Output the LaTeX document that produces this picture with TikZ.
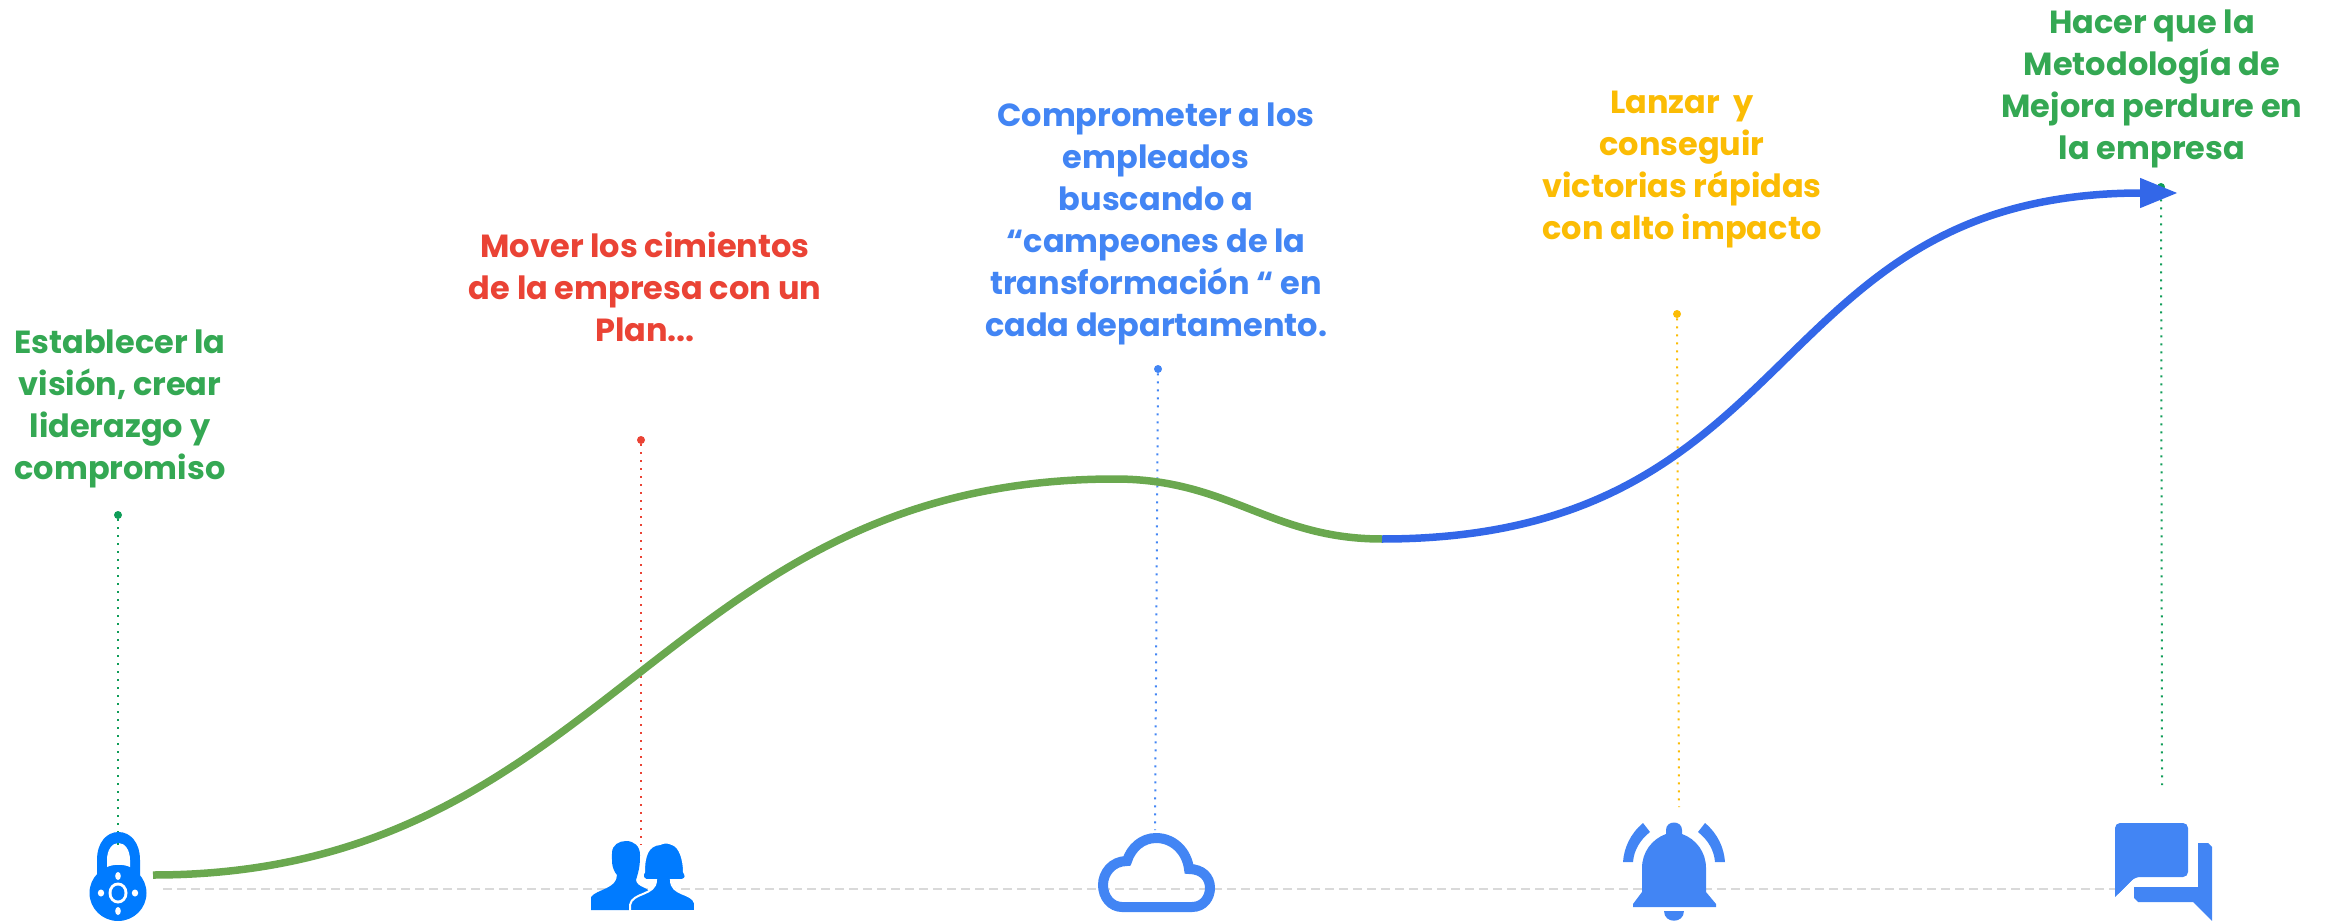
\documentclass[tikz,border=0pt]{standalone}
\usepackage{fontspec}
\setmainfont{Poppins}
\usepackage{tikz}
\usetikzlibrary{arrows.meta,calc,positioning}
\definecolor{stepgreen}{HTML}{34A853}
\definecolor{stepred}{HTML}{EA4335}
\definecolor{stepblue}{HTML}{4285F4}
\definecolor{stepyellow}{HTML}{FBBC04}
\definecolor{dotgreen}{HTML}{0F9D58}
\definecolor{curvegreen}{HTML}{6AA84F}
\definecolor{curveblue}{HTML}{3367E8}
\definecolor{iconblue}{HTML}{007BFF}
\definecolor{basegray}{HTML}{D9D9D9}
\tikzset{
    steptext/.style={font=\fontsize{18.2pt}{23.9pt}\selectfont\bfseries, align=center, text=#1, inner sep=0pt},
    leader/.style={#1, line width=0.4mm, dash pattern=on 0.4mm off 1.2mm},
    leaddot/.style={circle, fill=#1, inner sep=0pt, minimum size=1.6mm},
    curve/.style={line width=1.5mm, #1},
}
\begin{document}
\begin{tikzpicture}[x=0.2mm,y=-0.2mm]
    \useasboundingbox (0,0) rectangle (2330,921);
    % base line
    \coordinate (basestart) at (163,889);
    \coordinate (baseend) at (2115,889);
    \draw[basegray, line width=0.45mm, dash pattern=on 1.7mm off 1.1mm] (basestart) -- (baseend);

    % texts
    \node[steptext=stepgreen] (vision) at (120,409) {Establecer la\\visión, crear\\liderazgo y\\compromiso};
    \node[steptext=stepred] (plan) at (645,287) {Mover los cimientos\\de la empresa con un\\Plan...};
    \node[steptext=stepblue] (empleados) at (1156,224) {Comprometer a los\\empleados\\buscando a\\“campeones de la\\transformación “ en\\cada departamento.};
    \node[steptext=stepyellow] (victorias) at (1682,170) {Lanzar\ \ y\\conseguir\\victorias rápidas\\con alto impacto};
    \node[steptext=stepgreen] (metodo) at (2152,89) {Hacer que la\\Metodología de\\Mejora perdure en\\la empresa};

    % dots and dotted lines
    \node[leaddot=dotgreen] (dotvision) at (118,515) {};
    \node[leaddot=stepred] (dotplan) at (641,440) {};
    \node[leaddot=stepblue] (dotempleados) at (1158,369) {};
    \node[leaddot=stepyellow] (dotvictorias) at (1677,314) {};
    \node[leaddot=dotgreen] (dotmetodo) at (2161,187) {};
    \coordinate (endvision) at (118,846);
    \coordinate (endplan) at (641,845);
    \coordinate (endempleados) at (1155,830);
    \coordinate (endvictorias) at (1679,807);
    \coordinate (endmetodo) at (2162,785);
    \draw[leader=dotgreen] (dotvision) -- (endvision);
    \draw[leader=stepred] (dotplan) -- (endplan);
    \draw[leader=stepblue] (dotempleados) -- (endempleados);
    \draw[leader=stepyellow] (dotvictorias) -- (endvictorias);
    \draw[leader=dotgreen] (dotmetodo) -- (endmetodo);

    % lock
    \fill[iconblue] (118,893) ellipse [x radius=28.5, y radius=28];
    \fill[iconblue] (97,878) -- (97,860) .. controls (97,842) and (107,832) .. (118.5,832) .. controls (130,832) and (140,842) .. (140,860) -- (140,878) -- cycle;
    \fill[white] (107,867) -- (107,860) .. controls (107,850) and (112,843) .. (118.5,843) .. controls (125,843) and (130,850) .. (130,860) -- (130,867) .. controls (124,864) and (113,864) .. (107,867) -- cycle;
    \draw[leader=dotgreen] (118,843) -- (endvision);
    \fill[white] (118,893) ellipse [x radius=9.5, y radius=10.5];
    \fill[iconblue] (118,893) ellipse [x radius=6.5, y radius=7.5];
    \fill[white] (101,893) ellipse [x radius=3.2, y radius=3.5];
    \fill[white] (135,893) ellipse [x radius=3.2, y radius=3.5];
    \fill[white] (118,876) ellipse [x radius=2.8, y radius=4];
    \fill[white] (118,911) ellipse [x radius=2.8, y radius=4];

    % people
    \fill[iconblue] (591,910) -- (591,897) .. controls (597,889) and (617,889) .. (617,875) .. controls (611,868) and (612,860) .. (612,853) .. controls (612,845) and (619,841) .. (626,841) .. controls (634,841) and (640,846) .. (640,855) .. controls (640,866) and (639,870) .. (636,880) .. controls (637,888) and (648,886) .. (652,895) -- (640,910) -- cycle;
    \fill[iconblue, draw=white, line width=0.4mm] (630,911) -- (630,905) .. controls (632,892) and (656,896) .. (656,880) -- (646,880) .. controls (642,878) and (642,875) .. (644,872) .. controls (644,855) and (648,845) .. (660,844) .. controls (664,842) and (668,842) .. (672,844) .. controls (680,846) and (684,860) .. (684,872) .. controls (686,875) and (687,879) .. (682,880) -- (671,880) .. controls (671,896) and (692,892) .. (695,903) -- (695,911) -- cycle;

    % cloud
    \draw[stepblue, line width=2mm] (1122,907) -- (1192,907) .. controls (1204,907) and (1210,897) .. (1210,888) .. controls (1210,877) and (1202,869) .. (1189,869) .. controls (1187,852) and (1174,838) .. (1156,838) .. controls (1142,838) and (1131,848) .. (1127,861) .. controls (1112,861) and (1103,873) .. (1103,885) .. controls (1103,897) and (1111,907) .. (1122,907) -- cycle;

    % bell
    \fill[stepblue] (1633,907) -- (1633,904) -- (1642,892) -- (1642,868) .. controls (1642,852) and (1652,839) .. (1666,834) -- (1666,830) .. controls (1666,820) and (1682,820) .. (1682,830) -- (1682,834) .. controls (1696,839) and (1706,852) .. (1706,868) -- (1706,892) -- (1716,904) -- (1716,907) -- cycle;
    \fill[stepblue] (1664,911) -- (1684,911) .. controls (1684,924) and (1664,924) .. (1664,911) -- cycle;
    \fill[stepblue] (1623,862) .. controls (1624,848) and (1630,834) .. (1643,823) -- (1650,832) .. controls (1640,840) and (1634,850) .. (1633,862) -- cycle;
    \fill[stepblue] (1725,862) .. controls (1724,848) and (1718,834) .. (1705,823) -- (1698,832) .. controls (1708,840) and (1714,850) .. (1715,862) -- cycle;

    % chat
    \fill[stepblue, rounded corners=1mm] (2115,823) -- (2188,823) -- (2188,877) -- (2135,877) -- (2115,897) -- cycle;
    \fill[stepblue] (2115,897) -- (2135,877) -- (2115,860) -- cycle;
    \fill[stepblue] (2198,843) -- (2208,843) -- (2212,847) -- (2212,921) -- (2193,902) -- (2138,902) -- (2134,898) -- (2134,887) -- (2198,887) -- cycle;

    % curves
    \coordinate (curvestart) at (153,875);
    \coordinate (curvetop) at (1115,479);
    \coordinate (curvemid) at (1382,539);
    \coordinate (curveend) at (2178,193);
    \draw[curve=curvegreen] (curvestart) .. controls (607,875) and (661,479) .. (curvetop) .. controls (1230,479) and (1270,539) .. (curvemid);
    \draw[curve=curveblue, -{Triangle[length=7.6mm,width=5.6mm]}] (curvemid) .. controls (1809,539) and (1759,193) .. (curveend);
\end{tikzpicture}
\end{document}
